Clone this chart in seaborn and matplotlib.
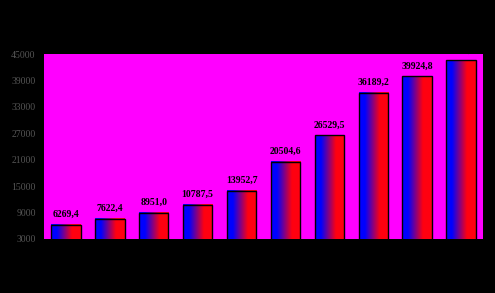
import numpy as np
import pandas as pd
import matplotlib
matplotlib.use("Agg")
import matplotlib.pyplot as plt
import seaborn as sns
from matplotlib.colors import LinearSegmentedColormap

categories = [f"c{i}" for i in range(1, 11)]
values = [6269.4, 7622.4, 8951.0, 10787.5, 13952.7, 20504.6, 26529.5, 36189.2, 39924.8, 43621.7]
labels = ["6269,4", "7622,4", "8951,0", "10787,5", "13952,7", "20504,6", "26529,5", "36189,2", "39924,8", "43621,7"]
yticks = [3000, 9000, 15000, 21000, 27000, 33000, 39000, 45000]

df = pd.DataFrame({"cat": categories, "val": values})

sns.set_style("white")
plt.rcParams["font.family"] = ["Liberation Serif", "DejaVu Serif"]

W, H = 495, 293
fig = plt.figure(figsize=(W / 100, H / 100), dpi=100, facecolor="black")
ax = fig.add_axes([44 / W, (H - 239) / H, 439 / W, 185 / H])
ax.set_facecolor("#ff00ff")

sns.barplot(data=df, x="cat", y="val", ax=ax, color="blue", width=0.67,
            edgecolor="black", linewidth=1.0, zorder=2)

cmap = LinearSegmentedColormap.from_list(
    "br", [(0, "#0000ff"), (0.2, "#0000ff"), (0.7, "#ff0010"), (1, "#ff0010")])
grad = np.linspace(0, 1, 256).reshape(1, -1)
for p, lab in zip(ax.patches, labels):
    x0, w, h = p.get_x(), p.get_width(), p.get_height()
    ax.imshow(grad, extent=[x0, x0 + w, 0, h], aspect="auto", cmap=cmap,
              zorder=2.5, interpolation="bilinear")
    p.set_facecolor("none")
    p.set_zorder(3)
    ax.text(x0 + w / 2, h + 1300, lab, ha="center", va="bottom",
            fontsize=7, fontweight="bold", color="black", zorder=4, clip_on=False)

ax.set_xlim(-0.5, len(categories) - 0.5)
ax.set_ylim(3000, 45000)
ax.set_yticks(yticks)
ax.set_yticklabels([str(t) for t in yticks], color="#555555", fontsize=7)
ax.set_xticks([])
ax.set_xlabel("")
ax.set_ylabel("")
ax.tick_params(axis="y", length=0, pad=6)
for s in ax.spines.values():
    s.set_visible(False)

fig.savefig("out.png", dpi=100, facecolor="black")
